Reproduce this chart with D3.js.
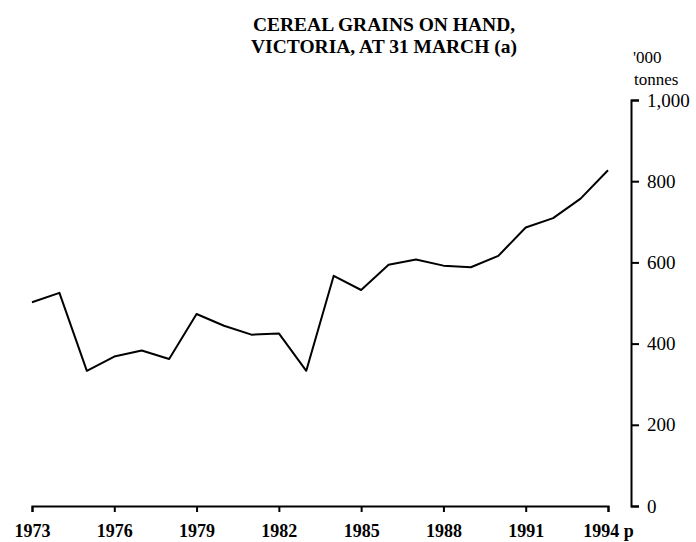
<!DOCTYPE html>
<html>
<head>
<meta charset="utf-8">
<script src="https://cdn.jsdelivr.net/npm/d3@7"></script>
<style>
	body { margin: 0; background: #fff; }
	#chartDiv { width: 696px; height: 542px; }
	text { font-family: "Liberation Serif", "Times New Roman", serif; fill: #000; }
	.axis path, .axis line { stroke: #000; stroke-width: 2; }
</style>
</head>
<body>
<div id="chartDiv"></div>
<script>
// cereal grains on hand at 31 March, '000 tonnes
var years = [1973, 1974, 1975, 1976, 1977, 1978, 1979, 1980, 1981, 1982, 1983,
	1984, 1985, 1986, 1987, 1988, 1989, 1990, 1991, 1992, 1993, 1994];
var tonnes = [502, 525, 333, 368, 383, 362, 473, 444, 422, 425, 333,
	567, 532, 594, 607, 592, 588, 616, 686, 709, 757, 827];
var yearTicks = [1973, 1976, 1979, 1982, 1985, 1988, 1991, 1994];
var valueTicks = [0, 200, 400, 600, 800, 1000];
var titleLines = ["CEREAL GRAINS ON HAND,", "VICTORIA, AT 31 MARCH (a)"];

var margin = {top: 100, right: 88, bottom: 36, left: 32},
	width = 696 - margin.left - margin.right,
	height = 542 - margin.top - margin.bottom;

var svg = d3.select("#chartDiv").append("svg")
	.attr("width", 696)
	.attr("height", 542);

//title
svg.append("text")
	.attr("x", 384)
	.attr("text-anchor", "middle")
	.style("font-weight", "bold")
	.style("font-size", "19.5px")
	.selectAll("tspan")
	.data(titleLines)
	.enter().append("tspan")
	.attr("x", 384)
	.attr("y", function(d, i) { return 31 + i * 22; })
	.text(function(d) { return d; });

var g = svg.append("g")
	.attr("transform", "translate(" + margin.left + "," + margin.top + ")");

var x = d3.scaleLinear().domain([1973, 1994]).range([0, width]);
var y = d3.scaleLinear().domain([0, 1000]).range([height, 0]);

//x axis, ticks every 3 years
var xAxis = g.append("g")
	.attr("class", "axis axis--x")
	.attr("transform", "translate(0," + height + ")")
	.call(d3.axisBottom(x)
		.tickValues(yearTicks)
		.tickSize(6)
		.tickSizeOuter(6)
		.tickPadding(12)
		.tickFormat(function(d) { return d == 1994 ? "1994 p" : d; }));
xAxis.selectAll("text")
	.style("font-size", "18px")
	.style("font-weight", "bold")
	.style("font-family", "'Liberation Serif', serif");
xAxis.select(".domain").attr("fill", "none");

//y axis on the right
var yAxis = g.append("g")
	.attr("class", "axis axis--y")
	.attr("transform", "translate(" + (width + 23) + ",0)")
	.call(d3.axisRight(y)
		.tickValues(valueTicks)
		.tickSize(8)
		.tickSizeOuter(8)
		.tickPadding(8)
		.tickFormat(d3.format(",")));
yAxis.selectAll("text")
	.style("font-size", "19px")
	.style("font-family", "'Liberation Serif', serif");
yAxis.select(".domain").attr("fill", "none");

//units label
var units = svg.append("text")
	.attr("text-anchor", "start")
	.style("font-size", "17px");
units.append("tspan").attr("x", 633).attr("y", 63).text("'000");
units.append("tspan").attr("x", 634).attr("y", 85).text("tonnes");

var line = d3.line()
	.x(function(d, i) { return x(years[i]); })
	.y(function(d) { return y(d); });

g.append("path")
	.datum(tonnes)
	.attr("fill", "none")
	.attr("stroke", "#000")
	.attr("stroke-width", 2)
	.attr("stroke-linejoin", "round")
	.attr("d", line);
</script>
</body>
</html>
